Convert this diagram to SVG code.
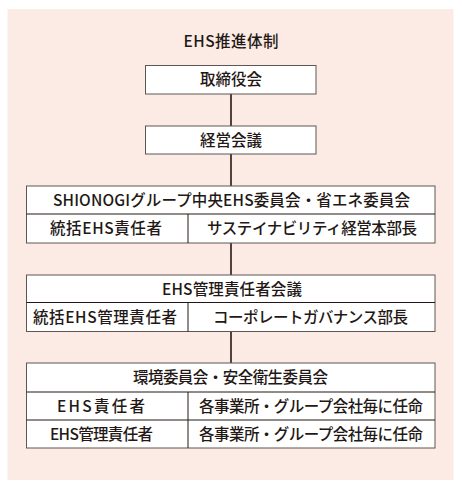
<svg xmlns="http://www.w3.org/2000/svg" width="462" height="490" viewBox="0 0 462 490">
<style>
  .bg { fill: #fbebe4; }
  .box { fill: #ffffff; stroke: #5e5653; stroke-width: 1; }
  .div { stroke: #231815; stroke-width: 1; fill: none; }
  .conn { stroke: #231815; stroke-width: 1.6; fill: none; }
  text { font-family: "Noto Sans CJK JP", "Noto Sans", sans-serif; font-size: 15.5px; font-weight: 500; fill: #231815; text-anchor: middle; }
</style>
<rect class="bg" x="7.5" y="9" width="446" height="471"/>
<text x="231" y="47" id="title" textLength="95" lengthAdjust="spacing">EHS推進体制</text>
<g id="connectors">
  <line class="conn" x1="231" y1="94" x2="231" y2="126"/>
  <line class="conn" x1="231" y1="154" x2="231" y2="186"/>
  <line class="conn" x1="231" y1="243" x2="231" y2="275"/>
  <line class="conn" x1="231" y1="331" x2="231" y2="363"/>
</g>
<g id="node-board">
  <rect class="box" x="145.5" y="65.5" width="170.5" height="28.5"/>
  <text x="231" y="85" textLength="62" lengthAdjust="spacing">取締役会</text>
</g>
<g id="node-management">
  <rect class="box" x="145.5" y="126" width="170.5" height="28"/>
  <text x="231" y="145.5" textLength="62" lengthAdjust="spacing">経営会議</text>
</g>
<g id="node-central">
  <rect class="box" x="26.5" y="186" width="408.5" height="57"/>
  <line class="div" x1="26.5" y1="214" x2="435" y2="214"/>
  <line class="div" x1="188" y1="214" x2="188" y2="243"/>
  <text x="231.5" y="205.5" textLength="357" lengthAdjust="spacing">SHIONOGIグループ中央EHS委員会・省エネ委員会</text>
  <text x="106" y="234" textLength="112" lengthAdjust="spacing">統括EHS責任者</text>
  <text x="312" y="234" textLength="210" lengthAdjust="spacing">サステイナビリティ経営本部長</text>
</g>
<g id="node-ehs-meeting">
  <rect class="box" x="26.5" y="275" width="408.5" height="56.5"/>
  <line class="div" x1="26.5" y1="302.5" x2="435" y2="302.5"/>
  <line class="div" x1="188" y1="302.5" x2="188" y2="331.5"/>
  <text x="232" y="294.5" textLength="140" lengthAdjust="spacing">EHS管理責任者会議</text>
  <text x="105" y="322.5" textLength="144" lengthAdjust="spacing">統括EHS管理責任者</text>
  <text x="310.5" y="322.5" textLength="195" lengthAdjust="spacing">コーポレートガバナンス部長</text>
</g>
<g id="node-committees">
  <rect class="box" x="26.5" y="363" width="408.5" height="85"/>
  <line class="div" x1="26.5" y1="392" x2="435" y2="392"/>
  <line class="div" x1="26.5" y1="420" x2="435" y2="420"/>
  <line class="div" x1="188" y1="392" x2="188" y2="448"/>
  <text x="230.5" y="383" textLength="195" lengthAdjust="spacing">環境委員会・安全衛生委員会</text>
  <text x="101" y="411.5" textLength="88" lengthAdjust="spacing">EHS責任者</text>
  <text x="311" y="411.5" textLength="224" lengthAdjust="spacing">各事業所・グループ会社毎に任命</text>
  <text x="101.5" y="439.5" textLength="103" lengthAdjust="spacing">EHS管理責任者</text>
  <text x="311" y="439.5" textLength="224" lengthAdjust="spacing">各事業所・グループ会社毎に任命</text>
</g>
</svg>
